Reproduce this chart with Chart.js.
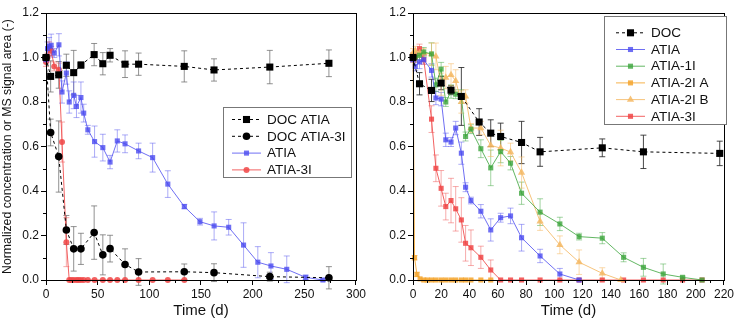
<!DOCTYPE html>
<html lang="en">
<head>
<meta charset="UTF-8">
<title>Normalized concentration vs time</title>
<script src="https://cdn.jsdelivr.net/npm/chart.js@4.4.1/dist/chart.umd.min.js"></script>
<style>
  body { margin:0; background:#fff; }
  #wrap { position:relative; width:736px; height:320px; }
  canvas { position:absolute; top:0; }
  #left { left:0; }
  #right { left:368px; }
</style>
</head>
<body>
<div id="wrap">
  <canvas id="left" width="368" height="320"></canvas>
  <canvas id="right" width="368" height="320"></canvas>
</div>
<script>
// ---- left panel data ----
const docDaysL    = [0, 4.5, 12.3, 19.7, 26.8, 33.8, 46.6, 55, 62, 76.5, 89.6, 133.8, 162.6, 216.6, 273.8];
const docAtiaVals = [1.0, 0.915, 0.922, 0.965, 0.932, 0.966, 1.013, 0.972, 1.01, 0.97, 0.97, 0.96, 0.944, 0.957, 0.974];
const docAtiaErr  = [0.01, 0.07, 0.06, 0.05, 0.1, 0.015, 0.05, 0.05, 0.03, 0.06, 0.05, 0.07, 0.05, 0.075, 0.06];
const doc3IVals   = [1.0, 0.663, 0.555, 0.225, 0.14, 0.14, 0.213, 0.113, 0.141, 0.07, 0.036, 0.037, 0.033, 0.015, 0.01];
const doc3IErr    = [0.01, 0.06, 0.16, 0.065, 0.1, 0.07, 0.12, 0.09, 0.06, 0.07, 0.06, 0.035, 0.04, 0.02, 0.05];

const atiaDaysL = [0, 1.5, 3, 5, 8, 12.5, 15.5, 19.7, 22.5, 26.8, 29.5, 33.8, 36.5, 40.5, 47, 55, 62, 69, 76.5, 89.6,
                   103.2, 117.9, 133.9, 149, 162.7, 176.8, 191.2, 205, 217.7, 233, 251.3, 268];
const atiaValsL = [0.99, 1.04, 1.05, 1.055, 1.02, 1.057, 0.845, 0.93, 0.80, 0.83, 0.78, 0.82, 0.75, 0.675, 0.622, 0.595, 0.53, 0.625, 0.612, 0.58,
                   0.55, 0.431, 0.33, 0.262, 0.243, 0.237, 0.157, 0.08, 0.063, 0.048, 0.012, 0.0];
const atiaErrL  = [0.01, 0.03, 0.04, 0.05, 0.02, 0.05, 0.05, 0.05, 0.05, 0.06, 0.05, 0.07, 0.04, 0.02, 0.07, 0.06, 0.03, 0.05, 0.04, 0.035,
                   0.065, 0.06, 0.01, 0.015, 0.063, 0.035, 0.1, 0.07, 0.06, 0.06, 0.01, 0.005];

const atia3IDaysL = [0, 1.5, 3, 5, 8, 12.5, 15.5, 19.7, 22.5, 24.5, 26.8, 29.5, 31.5, 33.8, 36.5, 40.5, 47, 55, 62, 69, 76.5, 89.6, 103.2, 117.9, 133.9];
const atia3IValsL = [0.98, 1.0, 1.04, 1.03, 0.96, 0.945, 0.62, 0.17, 0, 0, 0, 0, 0, 0, 0, 0, 0, 0, 0, 0, 0, 0, 0, 0, 0];
const atia3IErrL  = [0.02, 0.02, 0.03, 0.02, 0.02, 0.03, 0.09, 0.11, 0, 0, 0, 0, 0, 0, 0, 0, 0, 0, 0, 0, 0, 0, 0, 0, 0];

// ---- right panel data ----
const docDaysR = [0, 4.6, 13.1, 19.9, 26.9, 34.2, 46.8, 55, 62, 76.8, 89.9, 133.9, 163, 217];
const docValsR = [1.0, 0.882, 0.852, 0.885, 0.853, 0.825, 0.71, 0.66, 0.645, 0.618, 0.576, 0.594, 0.576, 0.569];
const docErrR  = [0.01, 0.05, 0.05, 0.03, 0.02, 0.13, 0.06, 0.06, 0.06, 0.095, 0.065, 0.04, 0.075, 0.055];

const daysR = [0, 1.6, 4.6, 7.6, 13.1, 16.2, 19.9, 23.2, 26.9, 30.2, 34.2, 37.2, 41, 48, 55, 62, 69, 76.8, 89.9, 103.9,
               117.5, 133.9, 149, 163, 177, 190.7, 204.5];

const atiaValsR = [0.99, 0.96, 0.98, 0.99, 0.942, 0.818, 0.813, 0.63, 0.62, 0.683, 0.57, 0.417, 0.357, 0.309, 0.225, 0.28, 0.288, 0.19, 0.108, 0.027, 0.0];
const atiaErrR  = [0.01, 0.02, 0.03, 0.02, 0.03, 0.03, 0.03, 0.03, 0.02, 0.03, 0.05, 0.02, 0.015, 0.03, 0.05, 0.02, 0.035, 0.06, 0.03, 0.025, 0.005];

const atia1IVals = [1.0, 1.0, 1.01, 1.025, 1.016, 0.877, 0.948, 0.8, 0.847, 0.835, 0.825, 0.645, 0.678, 0.59, 0.504, 0.577, 0.525, 0.39, 0.305, 0.252,
                    0.195, 0.188, 0.102, 0.057, 0.027, 0.012, 0.0];
const atia1IErr  = [0.01, 0.02, 0.02, 0.02, 0.05, 0.03, 0.03, 0.02, 0.03, 0.02, 0.03, 0.02, 0.02, 0.04, 0.08, 0.05, 0.03, 0.05, 0.06, 0.03,
                    0.015, 0.025, 0.02, 0.04, 0.045, 0.005, 0.0];

const atia2IADays = [0, 1.1, 2.8, 5, 7.6, 10, 13.1, 16.2, 19.9, 23.2, 26.9, 30.2, 34.2, 37.2, 41, 48, 55];
const atia2IAVals = [1.0, 0.1, 0.025, 0.005, 0, 0, 0, 0, 0, 0, 0, 0, 0, 0, 0, 0, 0];
const atia2IAErr  = [0.02, 0.01, 0.01, 0, 0, 0, 0, 0, 0, 0, 0, 0, 0, 0, 0, 0, 0];

const atia2IBDays = [0, 1.6, 4.6, 7.6, 13.1, 16.2, 19.9, 23.2, 26.9, 30.2, 34.2, 37.2, 41, 48, 55, 62, 69, 76.8, 89.9, 103.9, 117.5, 133.9, 147];
const atia2IBVals = [1.02, 1.03, 1.02, 1.02, 1.015, 1.005, 0.88, 0.91, 0.922, 0.895, 0.8, 0.825, 0.683, 0.683, 0.605, 0.593, 0.575, 0.483, 0.263, 0.158, 0.08, 0.03, 0.0];
const atia2IBErr  = [0.02, 0.02, 0.02, 0.02, 0.05, 0.06, 0.05, 0.05, 0.05, 0.05, 0.05, 0.03, 0.02, 0.03, 0.05, 0.08, 0.04, 0.07, 0.04, 0.04, 0.055, 0.025, 0.0];

const atia3IValsR = [1.0, 1.0, 1.04, 0.99, 0.723, 0.502, 0.412, 0.33, 0.357, 0.32, 0.27, 0.165, 0.145, 0.102, 0.045, 0, 0, 0, 0, 0, 0, 0, 0, 0, 0, 0, 0];
const atia3IErrR  = [0.02, 0.02, 0.02, 0.02, 0.06, 0.06, 0.08, 0.06, 0.1, 0.1, 0.1, 0.08, 0.08, 0.05, 0.045, 0, 0, 0, 0, 0, 0, 0, 0, 0, 0, 0, 0];

const FONT = '"Liberation Sans", Arial, sans-serif';

function pts(days, vals) {
  return vals.map((v, i) => ({ x: days[i], y: v }));
}

function series(label, days, vals, errs, color, errColor, style, radius, dashed) {
  return {
    label: label,
    data: pts(days, vals),
    errs: errs,
    errColor: errColor,
    borderColor: color,
    backgroundColor: color,
    borderWidth: 1,
    borderDash: dashed ? [3, 3] : [],
    pointStyle: style,
    pointRadius: radius,
    pointBorderWidth: 0,
    tension: 0,
    clip: false
  };
}

// error bars drawn from each dataset's errs array via the y scale
const errorBars = {
  id: 'errorBars',
  beforeDatasetsDraw(chart) {
    const ctx = chart.ctx, ys = chart.scales.y;
    chart.data.datasets.forEach((ds, di) => {
      if (!ds.errs) return;
      const meta = chart.getDatasetMeta(di);
      ctx.save();
      ctx.strokeStyle = ds.errColor;
      ctx.lineWidth = 1;
      meta.data.forEach((p, i) => {
        const e = ds.errs[i];
        if (!e || e < 0.004) return;
        const v = ds.data[i].y;
        const y1 = ys.getPixelForValue(v + e), y2 = ys.getPixelForValue(v - e);
        ctx.beginPath();
        ctx.moveTo(p.x, y1); ctx.lineTo(p.x, y2);
        ctx.moveTo(p.x - 3, y1); ctx.lineTo(p.x + 3, y1);
        ctx.moveTo(p.x - 3, y2); ctx.lineTo(p.x + 3, y2);
        ctx.stroke();
      });
      ctx.restore();
    });
  }
};

// frame round the plot and minor tick marks
const frame = {
  id: 'frame',
  afterDraw(chart, args, opts) {
    const ctx = chart.ctx, a = chart.chartArea;
    ctx.save();
    ctx.strokeStyle = '#000';
    ctx.lineWidth = 1;
    ctx.strokeRect(Math.round(a.left) + 0.5, Math.round(a.top) + 0.5, Math.round(a.right - a.left), Math.round(a.bottom - a.top));
    const xs = chart.scales.x, ys = chart.scales.y;
    ctx.beginPath();
    for (let v = xs.min; v <= xs.max + 1e-6; v += opts.xMinor) {
      if (Math.abs(v / opts.xMajor - Math.round(v / opts.xMajor)) < 1e-6) continue;
      const x = Math.round(xs.getPixelForValue(v)) + 0.5;
      ctx.moveTo(x, a.bottom); ctx.lineTo(x, a.bottom + 3);
    }
    for (let v = ys.min; v <= ys.max + 1e-6; v += opts.yMinor) {
      if (Math.abs(v / opts.yMajor - Math.round(v / opts.yMajor)) < 1e-6) continue;
      const y = Math.round(ys.getPixelForValue(v)) + 0.5;
      ctx.moveTo(a.left, y); ctx.lineTo(a.left - 3, y);
    }
    ctx.stroke();
    ctx.restore();
  }
};

// legend in a box inside the plot
const boxLegend = {
  id: 'boxLegend',
  afterDraw(chart, args, o) {
    const ctx = chart.ctx;
    ctx.save();
    ctx.fillStyle = '#fff';
    ctx.fillRect(o.x, o.y, o.w, o.h);
    ctx.strokeStyle = '#777';
    ctx.lineWidth = 1;
    ctx.strokeRect(o.x + 0.5, o.y + 0.5, o.w, o.h);
    ctx.font = '13.5px ' + FONT;
    ctx.textBaseline = 'middle';
    chart.data.datasets.forEach((ds, i) => {
      const y = o.row0 + i * o.rowH;
      ctx.strokeStyle = ds.borderColor;
      ctx.setLineDash(ds.borderDash);
      ctx.beginPath();
      ctx.moveTo(o.lineX0, y + 0.5); ctx.lineTo(o.lineX1, y + 0.5);
      ctx.stroke();
      ctx.setLineDash([]);
      ctx.fillStyle = ds.backgroundColor;
      Chart.helpers.drawPoint(ctx, { pointStyle: ds.pointStyle, rotation: 0, radius: ds.pointRadius, borderWidth: 0 },
        (o.lineX0 + o.lineX1) / 2, y + 0.5);
      ctx.fillStyle = '#111';
      ctx.fillText(ds.label, o.textX, y + 1);
    });
    ctx.restore();
  }
};

function makeOptions(xMax, xStep, yWidth, yTitle, padRight, legendBox) {
  return {
    responsive: false,
    animation: false,
    layout: { padding: { top: 13, right: padRight, left: 0, bottom: 0 } },
    plugins: {
      legend: { display: false },
      tooltip: { enabled: false },
      boxLegend: legendBox,
      frame: { xMinor: xStep / 2, xMajor: xStep, yMinor: 0.1, yMajor: 0.2 }
    },
    scales: {
      x: {
        type: 'linear', min: 0, max: xMax,
        ticks: { stepSize: xStep, color: '#111', font: { family: FONT, size: 12 }, padding: 2, maxRotation: 0 },
        grid: { drawOnChartArea: false, drawTicks: true, tickLength: 5, color: '#000' },
        border: { display: true, color: '#000' },
        title: { display: true, text: 'Time (d)', color: '#111', font: { family: FONT, size: 15 }, padding: 0 },
        afterFit: s => { s.height = 40; }
      },
      y: {
        min: 0, max: 1.2,
        ticks: { stepSize: 0.2, color: '#111', font: { family: FONT, size: 12 }, padding: 2, callback: v => v.toFixed(1) },
        grid: { drawOnChartArea: false, drawTicks: true, tickLength: 5, color: '#000' },
        border: { display: true, color: '#000' },
        title: { display: !!yTitle, text: yTitle, color: '#111', font: { family: FONT, size: 12.3 }, padding: 0 },
        afterFit: s => { s.width = yWidth; }
      }
    }
  };
}

new Chart(document.getElementById('left'), {
  type: 'line',
  data: {
    datasets: [
      series('DOC ATIA', docDaysL, docAtiaVals, docAtiaErr, '#000', 'rgba(110,110,110,0.75)', 'rect', 5, true),
      series('DOC ATIA-3I', docDaysL, doc3IVals, doc3IErr, '#000', 'rgba(110,110,110,0.75)', 'circle', 3.8, true),
      series('ATIA', atiaDaysL, atiaValsL, atiaErrL, 'rgba(75,75,240,0.8)', 'rgba(90,90,240,0.5)', 'rect', 3.6, false),
      series('ATIA-3I', atia3IDaysL, atia3IValsL, atia3IErrL, 'rgba(240,70,70,0.85)', 'rgba(240,90,90,0.5)', 'circle', 3, false)
    ]
  },
  options: makeOptions(300, 50, 46, 'Normalized concentration or MS signal area (-)', 9,
    { x: 223, y: 107, w: 128, h: 70, row0: 119, rowH: 16.8, lineX0: 232, lineX1: 261, textX: 267 }),
  plugins: [errorBars, frame, boxLegend]
});

new Chart(document.getElementById('right'), {
  type: 'line',
  data: {
    datasets: [
      series('DOC', docDaysR, docValsR, docErrR, '#000', 'rgba(40,40,40,0.85)', 'rect', 5, true),
      series('ATIA', daysR, atiaValsR, atiaErrR, 'rgba(75,75,240,0.8)', 'rgba(90,90,240,0.5)', 'rect', 3.6, false),
      series('ATIA-1I', daysR, atia1IVals, atia1IErr, 'rgba(60,165,60,0.8)', 'rgba(70,170,70,0.5)', 'rect', 3.6, false),
      series('ATIA-2I A', atia2IADays, atia2IAVals, atia2IAErr, 'rgba(245,165,45,0.85)', 'rgba(245,170,60,0.5)', 'rect', 3.6, false),
      series('ATIA-2I B', atia2IBDays, atia2IBVals, atia2IBErr, 'rgba(245,185,100,0.85)', 'rgba(245,185,100,0.55)', 'triangle', 4.2, false),
      series('ATIA-3I', daysR, atia3IValsR, atia3IErrR, 'rgba(240,70,70,0.85)', 'rgba(240,90,90,0.5)', 'rect', 3.6, false)
    ]
  },
  options: makeOptions(220, 20, 45, '', 10,
    { x: 236, y: 16, w: 122, h: 108, row0: 32.3, rowH: 16.7, lineX0: 248, lineX1: 277, textX: 283 }),
  plugins: [errorBars, frame, boxLegend]
});
</script>
</body>
</html>
